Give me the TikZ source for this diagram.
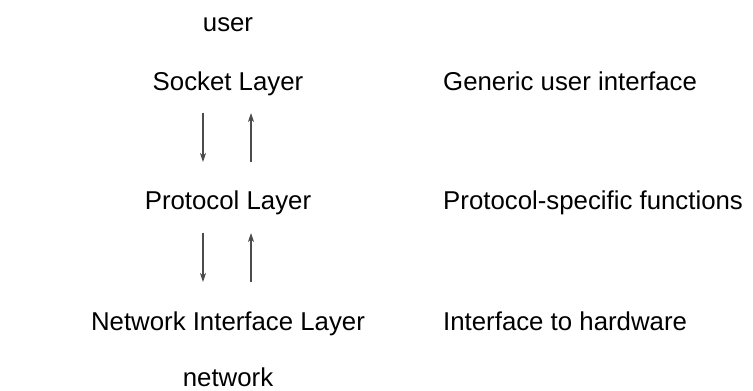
\documentclass[tikz,border=0pt]{standalone}
\usepackage{fontspec}
\setmainfont{Liberation Sans}
\usetikzlibrary{arrows.meta}
\begin{document}
\begin{tikzpicture}[x=1pt,y=-1pt,
  lbl/.style={inner sep=0pt,anchor=base,font=\fontsize{25.8}{30}\selectfont},
  desc/.style={inner sep=0pt,anchor=base west,font=\fontsize{25.8}{30}\selectfont},
  flow/.style={line width=1.1pt,draw=black!70,-{Stealth[length=9pt,width=6pt,inset=2.5pt]}}]
\useasboundingbox (0,0) rectangle (753,391);
\node[lbl] (user) at (228,31) {user};
\node[lbl] (sock) at (228,90) {Socket Layer};
\node[lbl] (prot) at (228,209) {Protocol Layer};
\node[lbl] (netif) at (228,330) {Network Interface Layer};
\node[lbl] (net) at (228,386.5) {network};
\node[desc] (d1) at (443,90) {Generic user interface};
\node[desc] (d2) at (443,209) {Protocol-specific functions};
\node[desc] (d3) at (443,330) {Interface to hardware};
\coordinate (a1t) at (203,113);
\coordinate (a1b) at (203,162);
\coordinate (b1t) at (251,113);
\coordinate (b1b) at (251,162);
\coordinate (a2t) at (203,233);
\coordinate (a2b) at (203,282);
\coordinate (b2t) at (251,233);
\coordinate (b2b) at (251,282);
\draw[flow] (a1t) -- (a1b);
\draw[flow] (b1b) -- (b1t);
\draw[flow] (a2t) -- (a2b);
\draw[flow] (b2b) -- (b2t);
\end{tikzpicture}
\end{document}
